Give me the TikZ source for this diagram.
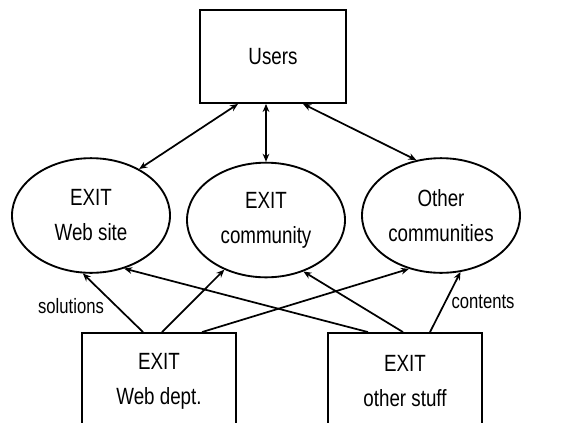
\documentclass[tikz,border=0pt]{standalone}
\usepackage{fontspec}
\setmainfont{Liberation Sans}[FakeStretch=0.8]
\usetikzlibrary{shapes.geometric,arrows.meta,calc}
\begin{document}
\begin{tikzpicture}[x=0.75pt,y=-0.75pt,
  box/.style={draw,line width=1.4pt,rectangle,inner sep=0pt,align=center,
    font=\fontsize{17.6pt}{26.25pt}\selectfont},
  oval/.style={draw,line width=1.4pt,ellipse,inner sep=0pt,align=center,
    minimum width=118.5pt,minimum height=86pt,
    font=\fontsize{17.6pt}{26.25pt}\selectfont},
  lab/.style={font=\fontsize{15.6pt}{18pt}\selectfont,inner sep=0pt,anchor=base},
  arr/.style={line width=1.3pt,-{Stealth[length=6pt,width=5pt]}},
  darr/.style={line width=1.3pt,{Stealth[length=6pt,width=5pt]}-{Stealth[length=6pt,width=5pt]}}]
\useasboundingbox (0,0) rectangle (563,422);
\clip (0,0) rectangle (563,422);
\node[box,minimum width=109.5pt,minimum height=69.75pt] (users) at (273,56.5) {Users};
\node[oval] (site) at (91,215.5) {EXIT\\Web site};
\node[oval] (comm) at (266,220) {EXIT\\community};
\node[oval] (other) at (441,215.5) {Other\\communities};
\node[box,minimum width=115.5pt,minimum height=72pt] (dept) at (159,381) {EXIT\\Web dept.};
\node[box,minimum width=115.5pt,minimum height=72pt] (stuff) at (405,381) {EXIT\\other stuff};
\draw[darr] ($(users.south)+(-35,0)$) -- (site.44);
\draw[darr] ($(users.south)+(-7,0)$) -- (comm.north);
\draw[darr] ($(users.south)+(30,0)$) -- (other.114);
\draw[arr] ($(dept.north)+(-16,0)$) -- (site.-98);
\draw[arr] ($(dept.north)+(3,0)$) -- (comm.-130.5);
\draw[arr] ($(dept.north)+(43,0)$) -- (other.-121);
\draw[arr] ($(stuff.north)+(-37,0)$) -- (site.-58.6);
\draw[arr] ($(stuff.north)+(-2,0)$) -- (comm.-54);
\draw[arr] ($(stuff.north)+(25,0)$) -- (other.-71.7);
\node[lab] (sol) at (71,313) {solutions};
\node[lab] (cont) at (483,308) {contents};
\end{tikzpicture}
\end{document}
